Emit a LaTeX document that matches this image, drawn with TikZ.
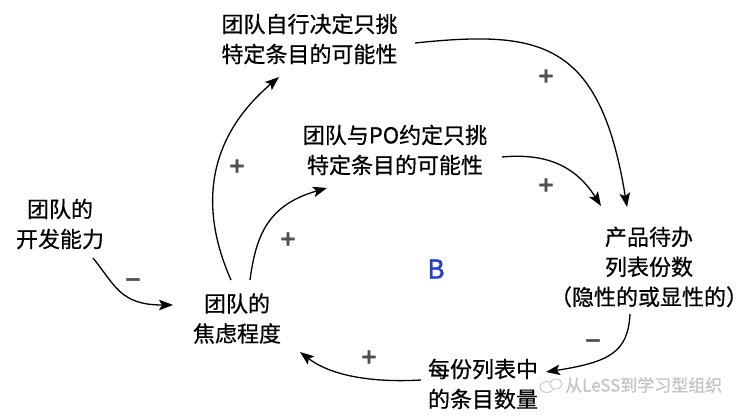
\documentclass[tikz,border=0pt]{standalone}
\usepackage{fontspec}
\newfontfamily\cjk{Noto Sans CJK SC}[FakeBold=0.6]
\newfontfamily\bfont{Noto Sans CJK SC}[FakeBold=1.6]
\newfontfamily\signfont{DejaVu Sans Bold}[FakeBold=2.5]
\usetikzlibrary{arrows.meta,calc}
\definecolor{signgray}{RGB}{80,80,80}
\definecolor{loopblue}{RGB}{35,65,200}
\definecolor{wmgray}{RGB}{195,195,195}
\tikzset{
  var/.style={inner sep=0pt, align=center, font=\cjk\fontsize{22}{30}\selectfont},
  conn/.style={line width=1.3pt, -{Stealth[length=14pt,width=10.5pt,inset=3pt]}},
  sign/.style={inner sep=0pt, text=signgray, font=\signfont\fontsize{20}{20}\selectfont},
}
\begin{document}
\begin{tikzpicture}[x=1pt,y=-1pt]
\fill[white] (0,0) rectangle (756,420);
\useasboundingbox (0,0) rectangle (756,420);

\node[var] (top) at (309.5,39) {团队自行决定只挑\\特定条目的可能性};
\node[var] (po)  at (395,150) {团队与PO约定只挑\\特定条目的可能性};
\node[var] (dev) at (60,224) {团队的\\开发能力};
\node[var] (anx) at (237,318.5) {团队的\\焦虑程度};
\node[var] (prod) at (649,267) {产品待办\\列表份数\\（隐性的或显性的）};
\node[var] (each) at (483,384) {每份列表中\\的条目数量};
\node[inner sep=0pt, text=loopblue, font=\bfont\fontsize{26}{26}\selectfont] (B) at (436,269) {B};

% connectors
\draw[conn] ($(anx)+(-6,-38.5)$) .. controls (200,210) and (205,140) .. ($(top)+(-30.5,38)$);
\draw[conn] ($(anx)+(13,-38.5)$) .. controls (256,235) and (268,205) .. ($(po)+(-68,38)$);
\draw[conn] ($(top)+(105.5,4)$) .. controls (540,30) and (600,40) .. ($(prod)+(-22,-60)$);
\draw[conn] ($(po)+(107,7)$) .. controls (545,153) and (575,165) .. ($(prod)+(-48,-61)$);
\draw[conn] ($(prod)+(-19,47)$) .. controls (628,352) and (610,362) .. ($(each)+(63,-12)$);
\draw[conn] ($(each)+(-62,-4)$) .. controls (370,383) and (330,375) .. ($(anx)+(63,33.5)$);
\draw[conn] ($(dev)+(33,34)$) .. controls (115,285) and (120,305) .. ($(anx)+(-64,-13.5)$);

% polarity signs
\node[sign] (s1) at (237,166) {+};
\node[sign] (s2) at (288,239) {+};
\node[sign] (s3) at (546,76) {+};
\node[sign] (s4) at (546,185) {+};
\node[sign] (s5) at (133,282) {−};
\node[sign] (s6) at (593,343) {−};
\node[sign] (s7) at (369,357) {+};

% watermark
\draw[wmgray, line width=0.8pt] (547,387) ellipse (7pt and 5.5pt);
\draw[wmgray, line width=0.8pt, fill=white] (556,384) ellipse (6pt and 5pt);
\node[inner sep=0pt, anchor=west, text=wmgray, font=\cjk\fontsize{17}{17}\selectfont] (wm) at (565,385) {从LeSS到学习型组织};
\end{tikzpicture}
\end{document}
